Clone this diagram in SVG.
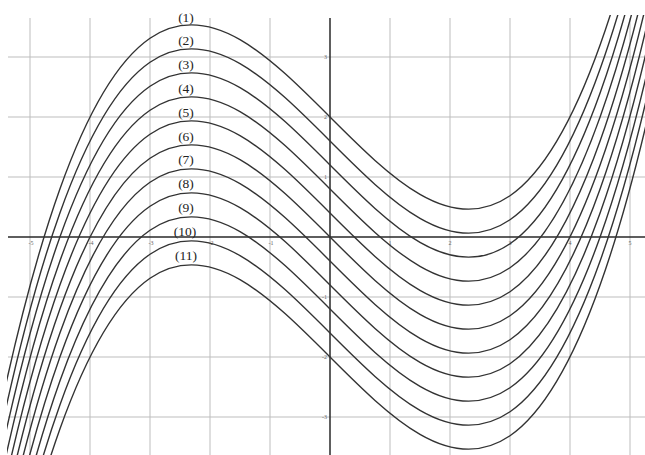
<svg xmlns="http://www.w3.org/2000/svg" width="645" height="455" viewBox="0 0 645 455">
  <style>
    .grid { stroke: #bdbdbd; stroke-width: 1; fill: none; }
    .axis { stroke: #2a2a2a; stroke-width: 1.5; fill: none; }
    .curve { stroke: #333; stroke-width: 1.4; fill: none; }
    .tick { font-family: "Liberation Serif", serif; font-size: 6px; fill: #666; }
    .lbl { font-family: "Liberation Serif", serif; font-size: 13.5px; fill: #222; text-anchor: middle; }
  </style>
  <defs>
    <clipPath id="plot"><rect x="7" y="15" width="638" height="440"/></clipPath>
    <path id="f" d="M -30 567 C 210 -813 450 1047 690 -333"/>
  </defs>
  <rect width="645" height="455" fill="#fff"/>
  <g id="grid">
    <path class="grid" d="M30 18V455M90 18V455M150 18V455M210 18V455M270 18V455M390 18V455M450 18V455M510 18V455M570 18V455M630 18V455"/>
    <path class="grid" d="M8 57H645M8 117H645M8 177H645M8 297H645M8 357H645M8 417H645"/>
  </g>
  <g id="axes">
    <path class="axis" d="M8 237H645M330 18V455"/>
  </g>
  <g id="ticks" class="tick">
    <text x="31" y="245" text-anchor="middle">-5</text>
    <text x="91" y="245" text-anchor="middle">-4</text>
    <text x="151" y="245" text-anchor="middle">-3</text>
    <text x="211" y="245" text-anchor="middle">-2</text>
    <text x="271" y="245" text-anchor="middle">-1</text>
    <text x="390" y="245" text-anchor="middle">1</text>
    <text x="450" y="245" text-anchor="middle">2</text>
    <text x="510" y="245" text-anchor="middle">3</text>
    <text x="570" y="245" text-anchor="middle">4</text>
    <text x="630" y="245" text-anchor="middle">5</text>
    <text x="327" y="59" text-anchor="end">3</text>
    <text x="327" y="119" text-anchor="end">2</text>
    <text x="327" y="179" text-anchor="end">1</text>
    <text x="327" y="299" text-anchor="end">-1</text>
    <text x="327" y="359" text-anchor="end">-2</text>
    <text x="327" y="419" text-anchor="end">-3</text>
  </g>
  <g id="connectors" clip-path="url(#plot)">
    <use href="#f" class="curve" transform="translate(0,0)"/>
    <use href="#f" class="curve" transform="translate(0,24)"/>
    <use href="#f" class="curve" transform="translate(0,48)"/>
    <use href="#f" class="curve" transform="translate(0,72)"/>
    <use href="#f" class="curve" transform="translate(0,96)"/>
    <use href="#f" class="curve" transform="translate(0,120)"/>
    <use href="#f" class="curve" transform="translate(0,144)"/>
    <use href="#f" class="curve" transform="translate(0,168)"/>
    <use href="#f" class="curve" transform="translate(0,192)"/>
    <use href="#f" class="curve" transform="translate(0,216)"/>
    <use href="#f" class="curve" transform="translate(0,240)"/>
  </g>
  <g id="labels" class="lbl">
    <text id="l1" x="186" y="21.5">(1)</text>
    <text id="l2" x="186" y="45.3">(2)</text>
    <text id="l3" x="186" y="69.1">(3)</text>
    <text id="l4" x="186" y="92.9">(4)</text>
    <text id="l5" x="186" y="116.7">(5)</text>
    <text id="l6" x="186" y="140.5">(6)</text>
    <text id="l7" x="186" y="164.3">(7)</text>
    <text id="l8" x="186" y="188.1">(8)</text>
    <text id="l9" x="186" y="211.9">(9)</text>
    <text id="l10" x="185" y="235.7">(10)</text>
    <text id="l11" x="186" y="259.5">(11)</text>
  </g>
</svg>
